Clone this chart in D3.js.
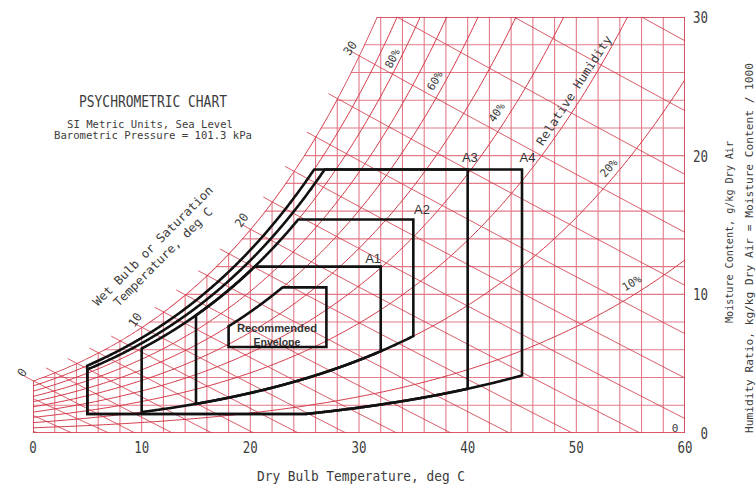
<!DOCTYPE html>
<html><head><meta charset="utf-8">
<script src="https://cdn.jsdelivr.net/npm/d3@7"></script>
<style>body{margin:0;background:#fff}svg{display:block}</style>
</head><body>
<svg id="c" width="756" height="485"></svg>
<script>
// ---------- data ----------
const satTemps = [-10,-8,-6,-4,-2,0,2,4,6,8,10,12,14,16,18,20,22,24,26,28,30,32,34,36,38,40,42,44,46,48,50,52,54,56,58,60];
const satPressure = [0.2600,0.3102,0.3689,0.4375,0.5177,0.6112,0.7060,0.8135,0.9353,1.0729,1.2282,1.4028,1.5990,1.8188,2.0647,2.3392,2.6452,2.9857,3.3638,3.7831,4.2470,4.7596,5.3251,5.9479,6.6328,7.3849,8.2096,9.1124,10.099,11.177,12.352,13.631,15.022,16.533,18.171,19.946];
const rhLevels = [10,20,30,40,50,60,70,80,90];
const wetBulbTemps = [-10,-8,-6,-4,-2,0,2,4,6,8,10,12,14,16,18,20,22,24,26,28,30,32,34,36];
const gridTemps = [0,2,4,6,8,10,12,14,16,18,20,22,24,26,28,30,32,34,36,38,40,42,44,46,48,50,52,54,56,58,60];
const gridMoist = [0,2,4,6,8,10,12,14,16,18,20,22,24,26,28,30];
const tempTicks = [0,10,20,30,40,50,60];
const moistTicks = [0,10,20,30];
const wbLabels = [0,10,20,30];
const wbLabelT = [-1.0,9.4,19.2,29.2];
const wbLabelW = [4.35,8.15,15.35,27.75];
const rhLabelVals = [80,60,40,20,10];
const rhLabelT = [33.1,37.0,42.7,53.0,55.1];
const rhLabelW = [27.0,25.4,23.1,19.1,10.8];
// envelopes (dry bulb limits, moisture limits g/kg, RH limits %)
const envNames = ["Recommended","A1","A2","A3","A4"];
const envDbMin = [18,15,10,5,5];
const envDbMax = [27,32,35,40,45];
const envWMin  = [6.2,0,0,1.37,1.37];
const envWMax  = [10.5,12.0,15.4,19.0,19.0];
const envRhMin = [0,20,20,7,7];
const envRhMax = [60,80,80,85,90];
const envLabelT = [null,31.3,35.8,40.2,45.5];
const envLabelW = [null,12.6,16.1,19.9,19.9];
const pressure = 101.325;

// ---------- psychrometrics ----------
function ps(T){
  let i = d3.bisectRight(satTemps, T) - 1;
  i = Math.max(0, Math.min(satTemps.length-2, i));
  const f = (T - satTemps[i]) / (satTemps[i+1]-satTemps[i]);
  return Math.exp(Math.log(satPressure[i])*(1-f) + Math.log(satPressure[i+1])*f);
}
function wRh(rh, T){ const pw = rh/100*ps(T); return 622*pw/(pressure-pw); }
function wWb(T, Twb){
  const Ws = wRh(100, Twb)/1000;
  let w;
  if (Twb >= 0) w = ((2501-2.326*Twb)*Ws - 1.006*(T-Twb)) / (2501 + 1.86*T - 4.186*Twb);
  else w = ((2830-0.24*Twb)*Ws - 1.006*(T-Twb)) / (2830 + 1.86*T - 2.1*Twb);
  return w*1000;
}
function tSatAt(W){ let a=-10,b=60; for(let k=0;k<60;k++){const m=(a+b)/2; if(wRh(100,m)<W)a=m; else b=m;} return (a+b)/2; }

// ---------- layout ----------
const svg = d3.select("#c");
const x = d3.scaleLinear().domain([0,60]).range([33,685]);
const y = d3.scaleLinear().domain([0,30]).range([433,17]);
const line = d3.line().x(d=>x(d[0])).y(d=>y(d[1]));
const RED = "#d23a4a", PINK = "#e27a88";

const tTop = tSatAt(30);
const satPts = [];
for (let T=0; T<tTop; T+=0.2) satPts.push([T, wRh(100,T)]);
satPts.push([tTop,30]);
const regionPts = satPts.concat([[60,30],[60,0],[0,0]]);

const defs = svg.append("defs");
defs.append("clipPath").attr("id","region").append("path").attr("d", line(regionPts)+"Z");
defs.append("clipPath").attr("id","rect").append("rect")
  .attr("x", x(-1.3)).attr("y", y(30)).attr("width", x(60)-x(-1.3)).attr("height", y(0)-y(30));

const gGrid = svg.append("g").attr("clip-path","url(#region)").attr("fill","none");
gGrid.selectAll(".v").data(gridTemps).join("line")
  .attr("x1",d=>x(d)).attr("x2",d=>x(d)).attr("y1",y(0)).attr("y2",y(30))
  .attr("stroke",PINK).attr("stroke-width",1.1);
gGrid.selectAll(".h").data(gridMoist).join("line")
  .attr("y1",d=>y(d)).attr("y2",d=>y(d)).attr("x1",x(0)).attr("x2",x(60))
  .attr("stroke",PINK).attr("stroke-width",1.1);
// RH curves
gGrid.selectAll(".rh").data(rhLevels).join("path")
  .attr("d", rh => { const p=[]; for(let T=0;T<=60.001;T+=0.25) p.push([T, Math.min(40,wRh(rh,T))]); return line(p); })
  .attr("stroke",RED).attr("stroke-width",1);
// borders
gGrid.append("path").attr("d", line(regionPts)+"Z").attr("stroke",RED).attr("stroke-width",1.6);

// wet bulb lines
const gWb = svg.append("g").attr("clip-path","url(#rect)").attr("fill","none");
gWb.selectAll("path").data(wetBulbTemps).join("path")
  .attr("d", tw => {
    const t0 = tw >= 0 ? tw-0.8 : 0;
    const p=[];
    for (let T=t0; T<=60.001; T+=0.05){ const w=wWb(T,tw); if (w<-0.3) break; p.push([T,w]); }
    return line(p);
  })
  .attr("stroke",RED).attr("stroke-width",1);

// envelopes
const gEnv = svg.append("g").attr("fill","none").attr("stroke","#111").attr("stroke-width",2.6).attr("stroke-linejoin","miter");
gEnv.selectAll("path").data(envNames.map((n,i)=>i)).join("path")
  .attr("d", i => {
    const p=[], st=0.05;
    for (let T=envDbMin[i]; T<=envDbMax[i]+1e-6; T+=st) p.push([T, Math.min(envWMax[i], wRh(envRhMax[i],T))]);
    p.push([envDbMax[i], Math.min(envWMax[i], wRh(envRhMax[i],envDbMax[i]))]);
    for (let T=envDbMax[i]; T>=envDbMin[i]-1e-6; T-=st) p.push([T, Math.max(envWMin[i], wRh(envRhMin[i],T))]);
    p.push([envDbMin[i], Math.max(envWMin[i], wRh(envRhMin[i],envDbMin[i]))]);
    return line(p)+"Z";
  });

// ---------- text ----------
const MONO = "DejaVu Sans Mono, monospace";
function txt(s, px, py, o={}){
  const t = svg.append("text")
    .attr("transform", `translate(${px},${py}) rotate(${o.rot||0})`)
    .attr("text-anchor", o.anchor||"middle")
    .attr("dominant-baseline", o.base||"alphabetic")
    .attr("font-family", o.family||MONO)
    .attr("font-size", o.size||12)
    .attr("fill", o.fill||"#3c3c3c")
    .text(s);
  if (o.len) t.attr("textLength", o.len).attr("lengthAdjust","spacingAndGlyphs");
  if (o.weight) t.attr("font-weight", o.weight);
  return t;
}
function slopeAngle(fn, T){ const d=0.2; return Math.atan2(y(fn(T+d))-y(fn(T-d)), x(T+d)-x(T-d))*180/Math.PI; }

txt("PSYCHROMETRIC CHART", 153, 107, {size:15, len:148});
txt("SI Metric Units, Sea Level", 150, 128, {size:11, len:166});
txt("Barometric Pressure = 101.3 kPa", 153, 139, {size:11, len:198});

tempTicks.forEach(v => txt(String(v), x(v), 453, {size:16, len:7.5*String(v).length}));
moistTicks.forEach(v => txt(String(v), 708, y(v)+6, {size:16, anchor:"end", len:7.5*String(v).length}));
txt("Dry Bulb Temperature, deg C", 361, 481, {size:14, len:208});
txt("Moisture Content, g/kg Dry Air", 733, 232, {size:11, rot:-90, len:182});
txt("Humidity Ratio, kg/kg Dry Air = Moisture Content / 1000", 753, 248, {size:11, rot:-90, len:370});

txt("Wet Bulb or Saturation", 153, 246, {size:12, rot:-45, base:"central", len:164});
txt("Temperature, deg C", 163, 257, {size:12, rot:-45, base:"central", len:134});

wbLabels.forEach((v,i) => txt(String(v), x(wbLabelT[i]), y(wbLabelW[i]), {size:12, rot:-55, base:"central", len:7*String(v).length}));
rhLabelVals.forEach((v,i) => txt(v+"%", x(rhLabelT[i]), y(rhLabelW[i]), {size:11, rot:slopeAngle(T=>wRh(v,T), rhLabelT[i]), base:"central", len:20}));
txt("Relative Humidity", x(49.8), y(24.7), {size:12, rot:slopeAngle(T=>wRh(30,T),49.8), base:"central", len:128});
txt("0", 675, 432, {size:11});

envNames.forEach((n,i) => { if (envLabelT[i]!==null) txt(n, x(envLabelT[i]), y(envLabelW[i]), {size:13, base:"central", family:"Liberation Sans, Arial, sans-serif", fill:"#333"}); });
txt("Recommended", x(22.45), y(7.55), {size:10.5, base:"central", weight:"bold", family:"Liberation Sans, Arial, sans-serif", fill:"#333", len:80});
txt("Envelope", x(22.45), y(6.55), {size:10.5, base:"central", weight:"bold", family:"Liberation Sans, Arial, sans-serif", fill:"#333"});
</script>
</body></html>
